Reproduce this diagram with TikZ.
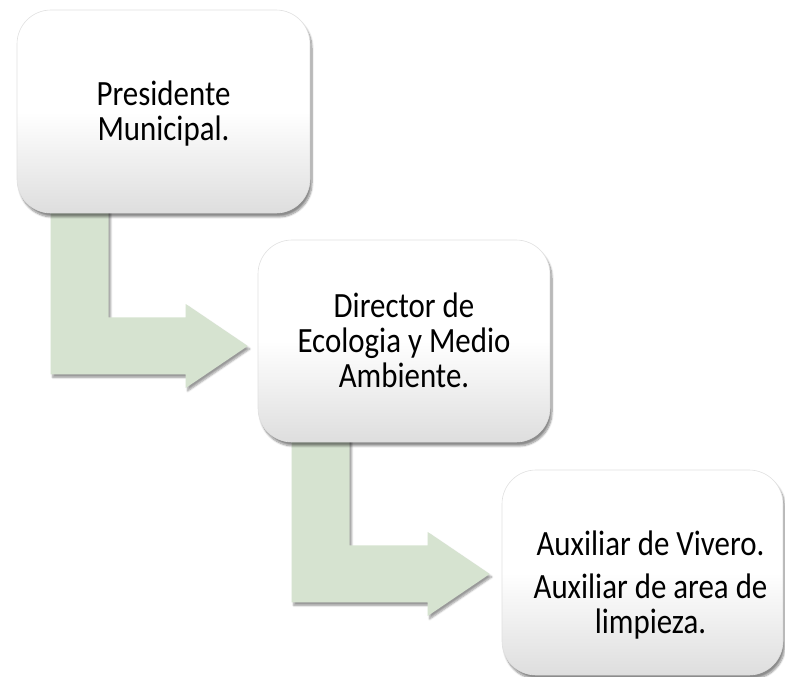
\documentclass[tikz,border=0pt]{standalone}
\usepackage{fontspec}
\setmainfont{Carlito}
\usetikzlibrary{calc,shadows.blur}
\definecolor{arrowgreen}{HTML}{D6E3D0}
\pgfdeclarelayer{background}
\pgfsetlayers{background,main}
\newcommand\bentarrow[4]{%
  \path[arrowbody] let \p1=(#1.south west), \p2=($(#2.west)+(#3,#4)$) in
    (\x1+34pt,\y1+15pt) -- (\x1+92pt,\y1+15pt) -- (\x1+92pt,\y2+28.5pt)
    -- (\x2-62pt,\y2+28.5pt) -- (\x2-62pt,\y2+42pt) -- (\p2)
    -- (\x2-62pt,\y2-42pt) -- (\x2-62pt,\y2-28.5pt) -- (\x1+34pt,\y2-28.5pt) -- cycle;}
\newcommand\boxlines[1]{\raisebox{-4pt}[\height][\depth]{\scalebox{0.87}[1]{\fontsize{35.5}{34}\selectfont
  \begin{tabular}{@{}c@{}}#1\end{tabular}}}}
\begin{document}
\begin{tikzpicture}[x=1pt,y=1pt,
  box/.style={rectangle, rounded corners=34pt, draw=black!12, line width=0.6pt,
    top color=white, bottom color=black!13, middle color=white,
    blur shadow={shadow xshift=2pt, shadow yshift=-4pt, shadow blur steps=8, shadow opacity=45},
    inner sep=0pt, text=black},
  arrowbody/.style={fill=arrowgreen,
    blur shadow={shadow xshift=2pt, shadow yshift=-3pt, shadow blur steps=5, shadow opacity=40}},
  boxtext/.style={inner sep=0pt, text=black}]
\useasboundingbox (0,0) rectangle (785,677);
\node[box, minimum width=293pt, minimum height=203pt] (b1) at (163.5,565.5)
  {\boxlines{Presidente\\Municipal.}};
\node[box, minimum width=292pt, minimum height=202pt] (b2) at (404,336)
  {\boxlines{Director de\\Ecologia y Medio\\Ambiente.}};
\node[box, minimum width=281pt, minimum height=205pt,
  label={[boxtext, xshift=8pt, yshift=-11pt]center:\boxlines{Auxiliar de Vivero.\\[8pt]Auxiliar de area de\\limpieza.}}]
  (b3) at (642.5,104.5) {};
\begin{pgfonlayer}{background}
\bentarrow{b1}{b2}{-10pt}{-5pt}
\bentarrow{b2}{b3}{-12pt}{-1.5pt}
\end{pgfonlayer}
\end{tikzpicture}
\end{document}
